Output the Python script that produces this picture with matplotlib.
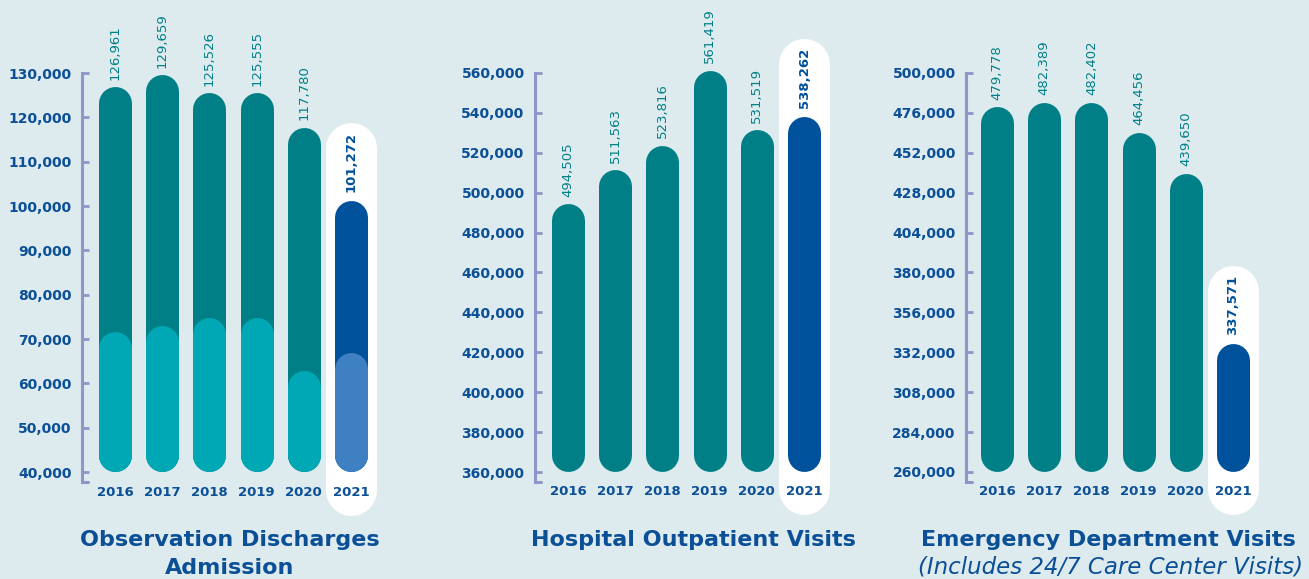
import matplotlib.pyplot as plt
import numpy as np

# ---- data ----
years = ['2016', '2017', '2018', '2019', '2020', '2021']

obs_discharges = [126961, 129659, 125526, 125555, 117780, 101272]
obs_admission = [71800, 73000, 74800, 74800, 62900, 66900]   # unlabelled inner bars, estimated
outpatient = [494505, 511563, 523816, 561419, 531519, 538262]
emergency = [479778, 482389, 482402, 464456, 439650, 337571]

obs_ticks = list(range(40000, 130001, 10000))
out_ticks = list(range(360000, 560001, 20000))
er_ticks = list(range(260000, 500001, 24000))

# ---- colours ----
bg = '#DDEBEF'
teal = '#007F86'
light_teal = '#00A7B5'
dark_blue = '#00519B'
light_blue = '#3E80C2'
axis_col = '#8C96C8'
text_blue = '#0B4F96'

W, H = 1309, 579
fig = plt.figure(figsize=(W / 100, H / 100), dpi=100, facecolor=bg)

TOP_PX, BOT_PX = 73, 472          # pixel rows of the top / bottom tick
STEP = 47.2                       # px between bar centres
BAR_W = 33                        # px
PILL_W = 51


def panel(a0, a1, c0, axis_px, ticks, main, inner=None):
    vmin, vmax = ticks[0], ticks[-1]
    span = vmax - vmin
    ppx = span / (BOT_PX - TOP_PX)            # data units per pixel
    ax = fig.add_axes([a0 / W, 0, (a1 - a0) / W, 1])
    ax.set_facecolor('none')
    ax.set_ylim(vmin - (H - BOT_PX) * ppx, vmin + BOT_PX * ppx)
    ax.set_xlim((a0 - c0) / STEP, (a1 - c0) / STEP)
    xa = (axis_px - c0) / STEP

    for s in ['top', 'right', 'bottom']:
        ax.spines[s].set_visible(False)
    ax.spines['left'].set_position(('data', xa))
    ax.spines['left'].set_bounds(vmin - 10 * ppx, vmax)
    ax.spines['left'].set_color(axis_col)
    ax.spines['left'].set_linewidth(2.2)
    ax.plot([xa, xa + 6 / STEP], [vmin - 10 * ppx] * 2, color=axis_col,
            lw=2.2, solid_capstyle='round')
    ax.set_yticks(ticks)
    ax.set_yticklabels(['{:,}'.format(t) for t in ticks])
    ax.tick_params(axis='y', direction='in', length=5, width=2, color=axis_col,
                   pad=7.5, labelsize=10, labelcolor=text_blue)
    for lab in ax.get_yticklabels():
        lab.set_fontweight('bold')
    ax.set_xticks([])

    r = BAR_W / 2 * ppx
    lw = BAR_W * 0.72
    n = len(main)
    # highlight pill behind the last bar
    rp = PILL_W / 2 * ppx
    ax.plot([n - 1, n - 1], [vmin - 43 * ppx + rp, main[-1] + 78 * ppx - rp],
            color='white', lw=PILL_W * 0.72, solid_capstyle='round', zorder=1)

    for i, v in enumerate(main):
        c = dark_blue if i == n - 1 else teal
        ax.plot([i, i], [vmin + r, v - r], color=c, lw=lw,
                solid_capstyle='round', zorder=2)
        if inner is not None:
            ci = light_blue if i == n - 1 else light_teal
            ax.plot([i, i], [vmin + r, inner[i] - r], color=ci, lw=lw,
                    solid_capstyle='round', zorder=3)
        if i == n - 1:
            ax.annotate('{:,}'.format(v), (i, v), xytext=(0, 6),
                        textcoords='offset points', rotation=90, ha='center',
                        va='bottom', fontsize=9.5, fontweight='bold', color=dark_blue)
        else:
            ax.annotate('{:,}'.format(v), (i, v), xytext=(0, 5),
                        textcoords='offset points', rotation=90, ha='center',
                        va='bottom', fontsize=9.5, color=teal)
        ax.text(i, vmin - 20 * ppx, years[i], ha='center', va='center',
                fontsize=9.5, fontweight='bold', color=text_blue, zorder=4)
    return ax


panel(0, 440, 115, 82, obs_ticks, obs_discharges, obs_admission)
panel(440, 880, 568, 535, out_ticks, outpatient)
panel(880, 1309, 997, 966, er_ticks, emergency)


def ftext(x, y, s, **kw):
    fig.text(x / W, 1 - y / H, s, ha='center', va='center', color=text_blue, **kw)


ftext(230, 540, 'Observation Discharges', fontsize=16, fontweight='bold')
ftext(230, 568, 'Admission', fontsize=16, fontweight='bold')
ftext(693, 540, 'Hospital Outpatient Visits', fontsize=16, fontweight='bold')
ftext(1108, 540, 'Emergency Department Visits', fontsize=16, fontweight='bold')
ftext(1110, 567, '(Includes 24/7 Care Center Visits)', fontsize=16.5, style='italic')

fig.savefig('out.png', dpi=100, facecolor=bg)
